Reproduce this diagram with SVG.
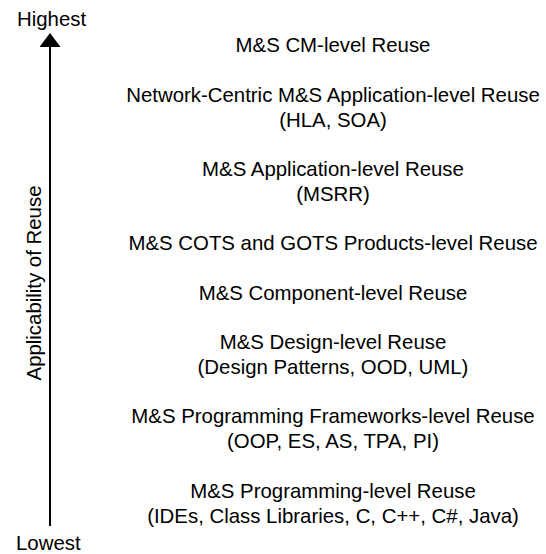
<svg xmlns="http://www.w3.org/2000/svg" width="546" height="554" viewBox="0 0 546 554">
<style>
text{font-family:"Liberation Sans",Arial,sans-serif;font-size:20.4px;fill:#000}
.c{text-anchor:middle}
</style>
<defs>
<marker id="ah" markerWidth="14" markerHeight="21" refX="0" refY="10.5" orient="auto" markerUnits="userSpaceOnUse" viewBox="0 0 14 21">
<path d="M0,0 L14,10.5 L0,21 Z" fill="#000"/>
</marker>
</defs>
<rect width="546" height="554" fill="#fff"/>
<g id="connectors">
<line x1="50" y1="526" x2="50" y2="47" stroke="#000" stroke-width="2" marker-end="url(#ah)"/>
</g>
<g id="axis-labels">
<text x="17" y="26">Highest</text>
<text x="16" y="550">Lowest</text>
<text class="c" transform="translate(41,283) rotate(-90)">Applicability of Reuse</text>
</g>
<g id="level-cm"><text class="c" x="333" y="52">M&amp;S CM-level Reuse</text></g>
<g id="level-netcentric"><text class="c" x="333" y="101.5">Network-Centric M&amp;S Application-level Reuse</text><text class="c" x="333" y="126.5">(HLA, SOA)</text></g>
<g id="level-application"><text class="c" x="333" y="175.5">M&amp;S Application-level Reuse</text><text class="c" x="333" y="200.5">(MSRR)</text></g>
<g id="level-cots"><text class="c" x="333" y="250">M&amp;S COTS and GOTS Products-level Reuse</text></g>
<g id="level-component"><text class="c" x="333" y="299.5">M&amp;S Component-level Reuse</text></g>
<g id="level-design"><text class="c" x="333" y="349">M&amp;S Design-level Reuse</text><text class="c" x="333" y="374">(Design Patterns, OOD, UML)</text></g>
<g id="level-frameworks"><text class="c" x="333" y="423">M&amp;S Programming Frameworks-level Reuse</text><text class="c" x="333" y="448">(OOP, ES, AS, TPA, PI)</text></g>
<g id="level-programming"><text class="c" x="333" y="497.5">M&amp;S Programming-level Reuse</text><text class="c" x="333" y="522.5">(IDEs, Class Libraries, C, C++, C#, Java)</text></g>
</svg>
